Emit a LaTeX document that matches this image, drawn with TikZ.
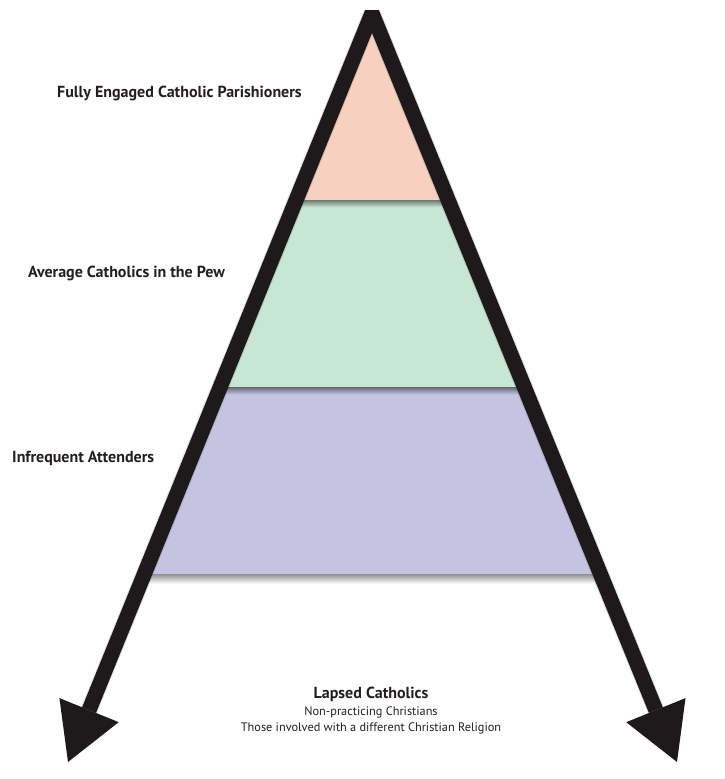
\documentclass[tikz,border=0pt]{standalone}
\usepackage{fontspec}
\setmainfont{PT Sans}
\usetikzlibrary{arrows.meta,calc}

\definecolor{tierpink}{RGB}{248,208,192}
\definecolor{tiergreen}{RGB}{200,230,212}
\definecolor{tierpurple}{RGB}{196,196,226}
\definecolor{arrowblack}{RGB}{30,26,27}
\definecolor{textblack}{RGB}{35,31,32}

\begin{document}
\begin{tikzpicture}[x=1pt,y=-1pt,
    tierlabel/.style={font=\bfseries\fontsize{16}{18}\selectfont, text=textblack, anchor=west, inner sep=0pt},
    notelabel/.style={font=\fontsize{12.3}{14}\selectfont, text=textblack, anchor=base, inner sep=0pt},
    bigtip/.tip={Triangle[length=56pt,width=64pt,line width=0pt]}]

\useasboundingbox (0,0) rectangle (725,779);

\coordinate (apex) at (372,13);
\coordinate (ltip) at (68,762);
\coordinate (rtip) at (677,762);

% the three tiers
\fill[tierpink] (apex) -- ($(apex)!0.25!(ltip)$) -- ($(apex)!0.25!(rtip)$) -- cycle;
\fill[tiergreen] ($(apex)!0.25!(ltip)$) -- ($(apex)!0.5!(ltip)$)
    -- ($(apex)!0.5!(rtip)$) -- ($(apex)!0.25!(rtip)$) -- cycle;
\fill[tierpurple] ($(apex)!0.5!(ltip)$) -- ($(apex)!0.75!(ltip)$)
    -- ($(apex)!0.75!(rtip)$) -- ($(apex)!0.5!(rtip)$) -- cycle;

% soft shadows under the tiers
\shade[top color=black!45!tiergreen, bottom color=tiergreen]
    ($(apex)!0.25!(ltip)$) rectangle ($(apex)!0.25!(rtip)+(0,7)$);
\shade[top color=black!45!tierpurple, bottom color=tierpurple]
    ($(apex)!0.5!(ltip)$) rectangle ($(apex)!0.5!(rtip)+(0,7)$);
\shade[top color=black!40, bottom color=white]
    ($(apex)!0.75!(ltip)+(4,0)$) rectangle ($(apex)!0.75!(rtip)+(-4,9)$);

% shadow of the arrows
\draw[black, opacity=0.12, line width=17pt, line join=bevel, shift={(6,3)},
    shorten <=52pt, shorten >=52pt]
    (ltip) -- (apex) -- (rtip);

% the two arrows
\draw[arrowblack, line width=15pt, line join=bevel, {bigtip}-{bigtip}]
    (ltip) -- (apex) -- (rtip);

\node[tierlabel] (engaged) at (57,93) {Fully Engaged Catholic Parishioners};
\node[tierlabel] (average) at (28,273) {Average Catholics in the Pew};
\node[tierlabel] (infrequent) at (12,458) {Infrequent Attenders};

\node[notelabel, font=\bfseries\fontsize{16}{18}\selectfont] (lapsed) at (371,698) {Lapsed Catholics};
\node[notelabel] (nonpractice) at (371,715) {Non-practicing Christians};
\node[notelabel] (otherfaith) at (371,731) {Those involved with a different Christian Religion};

\end{tikzpicture}
\end{document}
